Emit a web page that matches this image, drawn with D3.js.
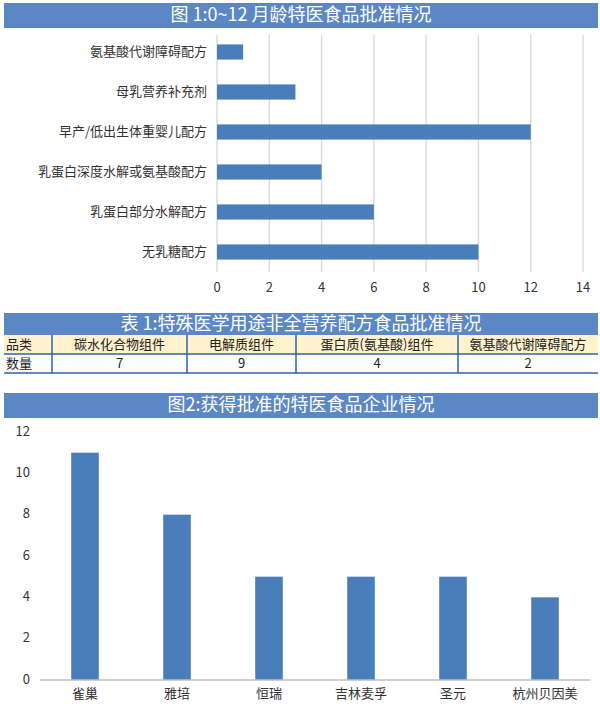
<!DOCTYPE html><html><head><meta charset="utf-8"><script src="https://cdn.jsdelivr.net/npm/d3@7"></script>
<style>body{margin:0;background:#fff}text{font-family:"Noto Sans CJK SC","Noto Sans",sans-serif}</style></head><body>
<svg id="c" width="600" height="708"></svg>
<script>
const fig1Cats=["氨基酸代谢障碍配方","母乳营养补充剂","早产/低出生体重婴儿配方","乳蛋白深度水解或氨基酸配方","乳蛋白部分水解配方","无乳糖配方"];
const fig1Vals=[1,3,12,4,6,10];
const fig1Ticks=[0,2,4,6,8,10,12,14];
const tableCats=["碳水化合物组件","电解质组件","蛋白质(氨基酸)组件","氨基酸代谢障碍配方"];
const tableVals=[7,9,4,2];
const fig2Cats=["雀巢","雅培","恒瑞","吉林麦孚","圣元","杭州贝因美"];
const fig2Vals=[11,8,5,5,5,4];
const fig2Ticks=[0,2,4,6,8,10,12];
const svg=d3.select("#c");
const blue="#4a7ebb",hdr="#5b87c4";
function header(y,h,t){svg.append("rect").attr("x",4).attr("y",y).attr("width",594).attr("height",h).attr("fill",hdr);
svg.append("text").attr("x",301).attr("y",y+h/2+1).attr("text-anchor","middle").attr("dominant-baseline","middle").attr("fill","#fff").attr("font-size",18).text(t);}
header(3,25,"图 1:0~12 月龄特医食品批准情况");
const x1=d3.scaleLinear().domain([0,14]).range([217,583]);
const y1=d3.scaleBand().domain(fig1Cats).range([32,272]).paddingInner(0.62).paddingOuter(0.31);
const g1=svg.append("g");
g1.selectAll("line.g").data(fig1Ticks).join("line").attr("x1",d=>x1(d)).attr("x2",d=>x1(d)).attr("y1",35).attr("y2",272).attr("stroke","#d9d9d9").attr("stroke-width",1.3);
g1.selectAll("rect").data(fig1Vals).join("rect").attr("x",x1(0)).attr("y",(d,i)=>y1(fig1Cats[i])).attr("width",d=>x1(d)-x1(0)).attr("height",y1.bandwidth()).attr("fill",blue);
g1.selectAll("text.c").data(fig1Cats).join("text").attr("x",207).attr("y",d=>y1(d)+y1.bandwidth()/2).attr("text-anchor","end").attr("dominant-baseline","middle").attr("font-size",13).attr("fill","#333").text(d=>d);
g1.selectAll("text.t").data(fig1Ticks).join("text").attr("x",d=>x1(d)).attr("y",288).attr("text-anchor","middle").attr("dominant-baseline","middle").attr("font-size",13).attr("fill","#333").text(d=>d);
header(313,22,"表 1:特殊医学用途非全营养配方食品批准情况");
const cols=[4,52,187,296,458,598];
const ty=[335,354,373];
svg.append("rect").attr("x",4).attr("y",ty[0]).attr("width",594).attr("height",ty[1]-ty[0]).attr("fill","#fff2cc");
const rows=[["品类",...tableCats],["数量",...tableVals]];
rows.forEach((r,ri)=>r.forEach((v,ci)=>{
svg.append("text").attr("x",ci==0?6:(cols[ci]+cols[ci+1])/2).attr("y",(ty[ri]+ty[ri+1])/2+1).attr("text-anchor",ci==0?"start":"middle").attr("dominant-baseline","middle").attr("font-size",13).attr("fill","#222").text(v);}));
cols.slice(1,5).forEach(c=>svg.append("line").attr("x1",c).attr("x2",c).attr("y1",ty[0]).attr("y2",ty[2]).attr("stroke","#2e62ad").attr("stroke-width",1.5));
[ty[1],ty[2]].forEach(y=>svg.append("line").attr("x1",4).attr("x2",598).attr("y1",y).attr("y2",y).attr("stroke","#2e62ad").attr("stroke-width",1.5));
header(393,25,"图2:获得批准的特医食品企业情况");
const x2=d3.scaleBand().domain(fig2Cats).range([39,591]).paddingInner(0.7).paddingOuter(0.35);
const y2=d3.scaleLinear().domain([0,12]).range([680,432]);
svg.selectAll("rect.b2").data(fig2Vals).join("rect").attr("class","b2").attr("x",(d,i)=>x2(fig2Cats[i])).attr("y",d=>y2(d)).attr("width",x2.bandwidth()).attr("height",d=>680-y2(d)).attr("fill",blue);
svg.append("line").attr("x1",40).attr("x2",590).attr("y1",680).attr("y2",680).attr("stroke","#bfbfbf").attr("stroke-width",1.3);
svg.selectAll("text.y2").data(fig2Ticks).join("text").attr("x",30).attr("y",d=>y2(d)).attr("text-anchor","end").attr("dominant-baseline","middle").attr("font-size",13).attr("fill","#333").text(d=>d);
svg.selectAll("text.x2").data(fig2Cats).join("text").attr("x",d=>x2(d)+x2.bandwidth()/2).attr("y",694).attr("text-anchor","middle").attr("dominant-baseline","middle").attr("font-size",13).attr("fill","#333").text(d=>d);
</script></body></html>
